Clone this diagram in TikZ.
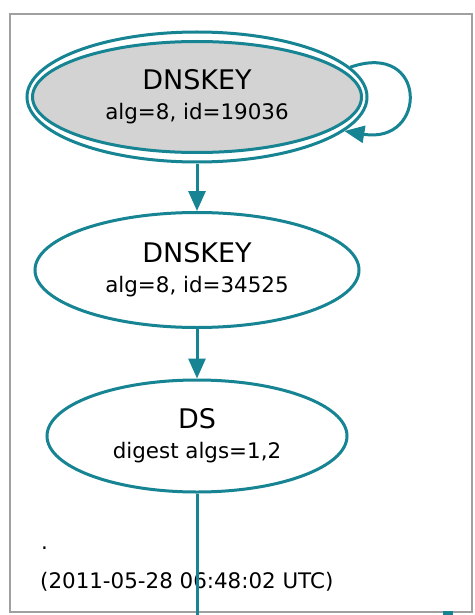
\documentclass[tikz,border=0pt]{standalone}
\usepackage{fontspec}
\setmainfont{DejaVu Sans}
\usetikzlibrary{arrows.meta,shapes.geometric}
\definecolor{edgeteal}{RGB}{22,132,146}
\definecolor{keygray}{RGB}{211,211,211}
\definecolor{framegray}{RGB}{160,160,160}
\newcommand{\titlefont}{\fontsize{27}{30}\selectfont}
\newcommand{\infofont}{\fontsize{21.4}{30}\selectfont}

\begin{document}
\begin{tikzpicture}[x=1pt, y=-1pt,
    rr/.style={ellipse, draw=edgeteal, line width=3pt, inner sep=0pt, align=center},
    link/.style={draw=edgeteal, line width=3pt, -{Triangle[length=20pt,width=17pt]}},
    stub/.style={draw=edgeteal, line width=3pt}]
    \useasboundingbox (0,0) rectangle (474,615);
    \fill[white] (0,0) rectangle (474,615);
    \draw[framegray, line width=2.5pt] (10,14) rectangle (472,612);
    % trust anchor key
    \node[rr, minimum width=340pt, minimum height=130pt] (kskouter) at (197,97) {};
    \node[rr, fill=keygray, minimum width=329pt, minimum height=111pt] (ksk) at (197,97)
      {\titlefont DNSKEY\\[12pt]\infofont alg=8, id=19036};
    \node[rr, minimum width=324pt, minimum height=115pt] (zsk) at (197,270)
      {\titlefont DNSKEY\\[12pt]\infofont alg=8, id=34525};
    \node[rr, minimum width=300pt, minimum height=112pt] (ds) at (197,436)
      {\titlefont DS\\[12pt]\infofont digest algs=1,2};
    \node[anchor=base west, inner sep=0pt, font=\infofont] (dot) at (41,549) {.};
    \node[anchor=base west, inner sep=0pt, font=\infofont] (stamp) at (40,588)
      {(2011-05-28 06:48:02 UTC)};
    \coordinate (below) at (197,615);
    \draw[link] (kskouter.11) .. controls (428,40) and (428,145) .. (kskouter.-13);
    \draw[link] (kskouter) -- (zsk);
    \draw[link] (zsk) -- (ds);
    \draw[stub] (ds) -- (below);
    \fill[edgeteal] (443,611) rectangle (453,615);
  \end{tikzpicture}
\end{document}
